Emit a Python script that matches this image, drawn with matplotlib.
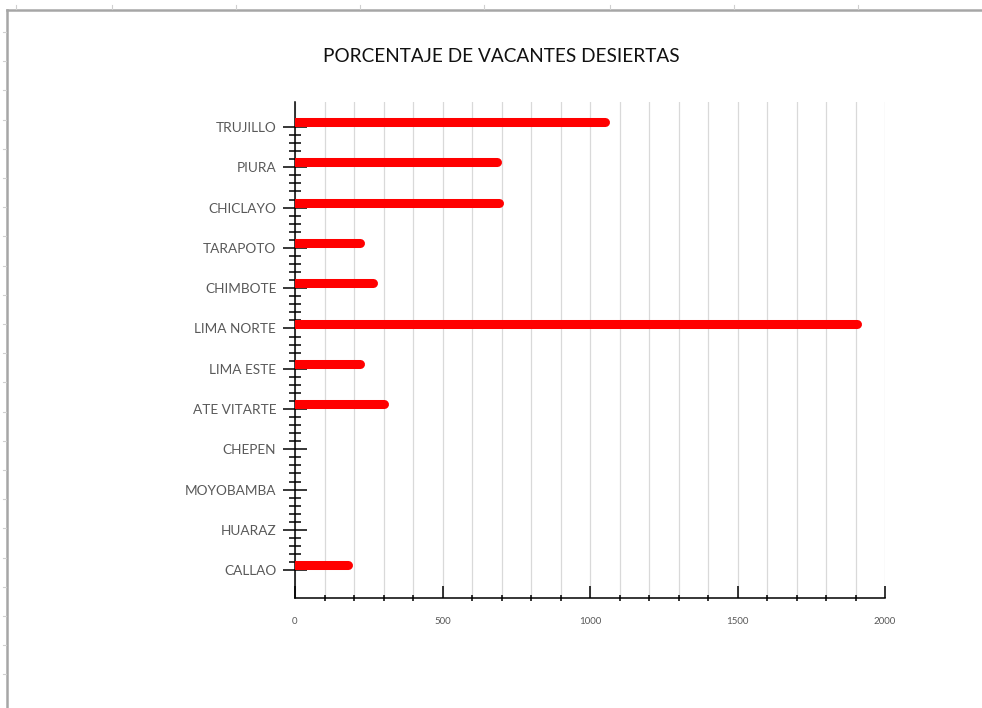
import numpy as np
import matplotlib
matplotlib.use('Agg')
import matplotlib.pyplot as plt
from matplotlib.ticker import MultipleLocator, FixedLocator
from matplotlib.lines import Line2D

# datos
sedes = ['TRUJILLO', 'PIURA', 'CHICLAYO', 'TARAPOTO', 'CHIMBOTE', 'LIMA NORTE',
         'LIMA ESTE', 'ATE VITARTE', 'CHEPEN', 'MOYOBAMBA', 'HUARAZ', 'CALLAO']
porcentaje = [1050, 685, 690, 220, 265, 1905, 220, 300, 0, 0, 0, 180]
x_ticks = [0, 500, 1000, 1500, 2000]

plt.rcParams['font.family'] = ['Lato', 'DejaVu Sans']

fig = plt.figure(figsize=(9.82, 7.08), dpi=100)
W, H = 982, 708

# marco tipo hoja de Excel
gris = '#a6a6a6'
fig.add_artist(Line2D([7 / W, 1], [1 - 10 / H, 1 - 10 / H], transform=fig.transFigure, color=gris, lw=1.8))
fig.add_artist(Line2D([7 / W, 7 / W], [0, 1 - 10 / H], transform=fig.transFigure, color=gris, lw=1.8))
for px in [16, 112, 236, 360, 484, 610, 734, 858]:
    fig.add_artist(Line2D([px / W, px / W], [1 - 5 / H, 1 - 9 / H], transform=fig.transFigure, color='#d0d0d0', lw=0.8))
for py in np.arange(32, 700, 29.2):
    fig.add_artist(Line2D([3 / W, 6 / W], [1 - py / H, 1 - py / H], transform=fig.transFigure, color='#d0d0d0', lw=0.8))

ax = fig.add_axes([295 / W, 110 / H, 590 / W, 496 / H])

y = np.arange(len(sedes))
for yi, v in zip(y, porcentaje):
    if v > 0:
        ax.plot([0, v], [yi - 0.12, yi - 0.12], color='#ff0000', lw=6.5,
                solid_capstyle='round', zorder=3)

ax.set_xlim(0, 2000)
ax.set_ylim(11.69, -0.62)

ax.set_yticks(y)
ax.set_yticklabels(sedes, fontsize=9.8, color='#595959')
ax.yaxis.set_minor_locator(FixedLocator([i + k / 5 for i in range(11) for k in range(1, 5)]))
ax.tick_params(axis='y', which='major', direction='inout', length=17, width=1.1, pad=5)
ax.tick_params(axis='y', which='minor', direction='inout', length=9, width=1.1)

ax.set_xticks(x_ticks)
ax.set_xticklabels([str(t) for t in x_ticks], fontsize=7, color='#595959')
ax.xaxis.set_minor_locator(MultipleLocator(100))
ax.tick_params(axis='x', which='major', direction='in', length=9, width=1.1, pad=14)
ax.tick_params(axis='x', which='minor', direction='inout', length=5, width=1.1)

ax.grid(True, axis='x', which='both', color='#d9d9d9', lw=0.9, zorder=0)
ax.set_axisbelow(True)

for s in ['top', 'right']:
    ax.spines[s].set_visible(False)
ax.spines['left'].set_linewidth(1.1)
ax.spines['bottom'].set_linewidth(1.1)

fig.text(501 / W, 1 - 57 / H, 'PORCENTAJE DE VACANTES DESIERTAS', ha='center', va='center',
         fontsize=13.7, color='#111111')

fig.savefig('out.png', dpi=100)
